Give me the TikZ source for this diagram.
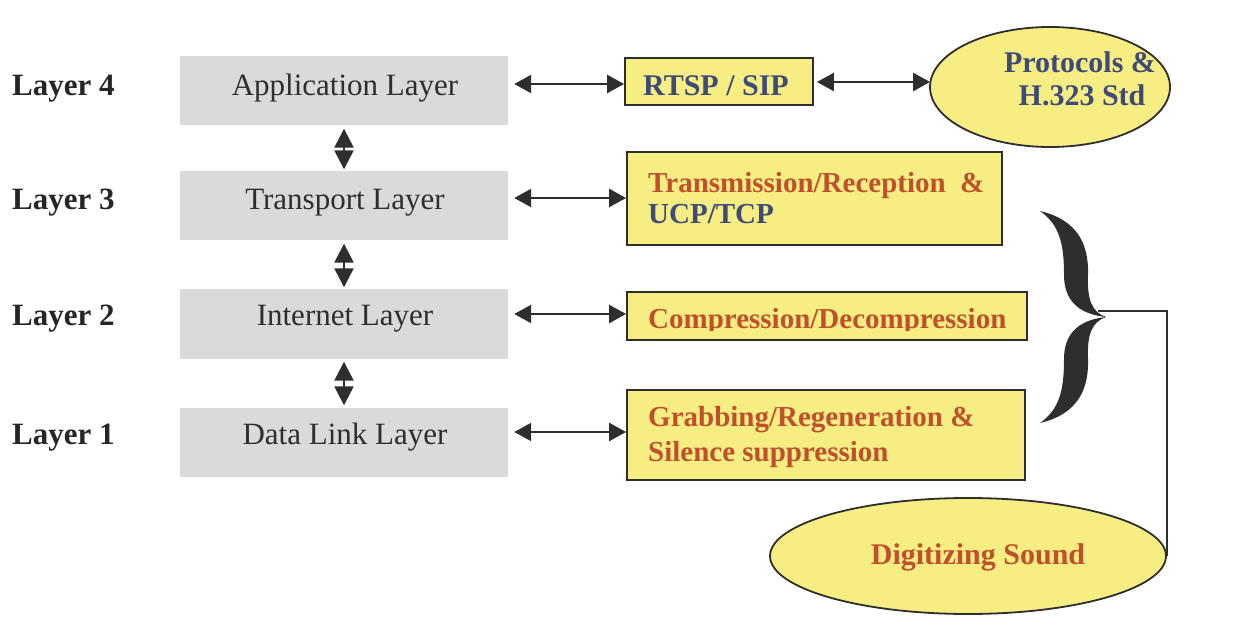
\documentclass[tikz,border=0pt]{standalone}
\usepackage{fontspec}
\setmainfont{Liberation Serif}
\usetikzlibrary{arrows.meta,shapes.geometric}
\definecolor{layergray}{HTML}{DADADA}
\definecolor{boxyellow}{HTML}{F6EE82}
\definecolor{txtred}{HTML}{C0502C}
\definecolor{txtblue}{HTML}{3E4A78}
\definecolor{edge}{HTML}{2E2E2E}
\tikzset{
  lbl/.style={font=\fontsize{31}{33}\selectfont\bfseries, text=black!85, anchor=base west, inner sep=0pt},
  layerbox/.style={fill=layergray, minimum width=328pt, minimum height=69pt, inner sep=0pt},
  layertxt/.style={font=\fontsize{31}{33}\selectfont, text=black!82, anchor=base, inner sep=0pt},
  ybox/.style={draw=edge, line width=1.8pt, fill=boxyellow, inner sep=0pt},
  yell/.style={ellipse, draw=edge, line width=1.8pt, fill=boxyellow, inner sep=0pt},
  ytxt/.style={font=\fontsize{29}{33}\selectfont\bfseries, inner sep=0pt, anchor=base west},
  ctxt/.style={font=\fontsize{30}{33}\selectfont\bfseries, inner sep=0pt, anchor=base},
  dblarrow/.style={line width=2.2pt, draw=edge,
    {Triangle[length=17pt,width=18pt]}-{Triangle[length=17pt,width=18pt]}},
  vdblarrow/.style={line width=2.4pt, draw=edge,
    {Triangle[length=19pt,width=19pt]}-{Triangle[length=19pt,width=19pt]}},
  link/.style={line width=1.4pt, draw=edge}
}
\begin{document}
\begin{tikzpicture}[x=1pt,y=-1pt]
\useasboundingbox (0,0) rectangle (1244,617);

% layer labels
\node[lbl] (l4) at (12,96) {Layer 4};
\node[lbl] (l3) at (12,210) {Layer 3};
\node[lbl] (l2) at (12,326) {Layer 2};
\node[lbl] (l1) at (12,444) {Layer 1};

% protocol stack
\node[layerbox] (app) at (344,91) {};
\node[layerbox] (trn) at (344,206) {};
\node[layerbox] (net) at (344,324) {};
\node[layerbox] (dll) at (344,442) {};
\node[layertxt] (appt) at (345,96)  {Application Layer};
\node[layertxt] (trnt) at (345,210) {Transport Layer};
\node[layertxt] (nett) at (345,326) {Internet Layer};
\node[layertxt] (dllt) at (345,444) {Data Link Layer};

\draw[vdblarrow] ([yshift=-3pt]app.south) -- ([yshift=2pt]trn.north);
\draw[vdblarrow] ([yshift=-3pt]trn.south) -- ([yshift=2pt]net.north);
\draw[vdblarrow] ([yshift=-3pt]net.south) -- ([yshift=2pt]dll.north);

% functions per layer
\node[ybox, minimum width=188pt, minimum height=47pt] (rtsp) at (719,81.5) {};
\node[ctxt, text=txtblue] (rtspt) at (716,96) {RTSP / SIP};

\node[ybox, minimum width=375pt, minimum height=93pt] (tx) at (814.5,198.5) {};
\node[ytxt, text=txtred]  (tx1) at (648,193) {Transmission/Reception~~\&};
\node[ytxt, text=txtblue] (tx2) at (648,224) {UCP/TCP};

\node[ybox, minimum width=400pt, minimum height=48pt] (comp) at (827,316) {};
\begin{scope}
  % descenders of the single line are cut off by its frame
  \clip (630,294) rectangle (1024,331);
  \node[ytxt, text=txtred] (compt) at (648,329) {Compression/Decompression};
\end{scope}

\node[ybox, minimum width=398pt, minimum height=90pt] (grab) at (826,435) {};
\node[ytxt, text=txtred] (grab1) at (648,426) {Grabbing/Regeneration \&};
\node[ytxt, text=txtred] (grab2) at (648,461) {Silence suppression};

\node[yell, minimum width=240pt, minimum height=120pt] (proto) at (1050,87) {};
\node[ctxt, text=txtblue] (proto1) at (1080,73)  {Protocols \&};
\node[ctxt, text=txtblue] (proto2) at (1082,106) {H.323 Std};

\node[yell, minimum width=396pt, minimum height=116pt] (dig) at (968,556) {};
\node[ctxt, text=txtred] (digt) at (978,564) {Digitizing Sound};

% links between layers and functions
\draw[dblarrow] ([xshift=6pt]app.east |- 0,84)  -- (rtsp.west |- 0,84);
\draw[dblarrow] ([xshift=6pt]trn.east |- 0,198) -- (tx.west |- 0,198);
\draw[dblarrow] ([xshift=6pt]net.east |- 0,314) -- (comp.west |- 0,314);
\draw[dblarrow] ([xshift=6pt]dll.east |- 0,432) -- (grab.west |- 0,432);
\draw[dblarrow] ([xshift=3pt]rtsp.east |- 0,82) -- ([xshift=1pt]proto.west |- 0,82);

% brace grouping layers 1-3
\coordinate (tip) at (1106,317);
\fill[edge] (1040,211) .. controls (1078,220) and (1089,245) .. (1088,275)
  .. controls (1087,300) and (1092,312) .. (tip)
  .. controls (1078,314) and (1064,300) .. (1064,275)
  .. controls (1064,245) and (1060,225) .. (1040,211) -- cycle;
\fill[edge] (tip) .. controls (1092,322) and (1087,334) .. (1088,359)
  .. controls (1089,389) and (1078,414) .. (1040,423)
  .. controls (1060,409) and (1064,389) .. (1064,359)
  .. controls (1064,334) and (1078,320) .. (tip) -- cycle;
\draw[link] ([xshift=-8pt,yshift=6pt]tip) -| (dig.east);
\end{tikzpicture}
\end{document}
